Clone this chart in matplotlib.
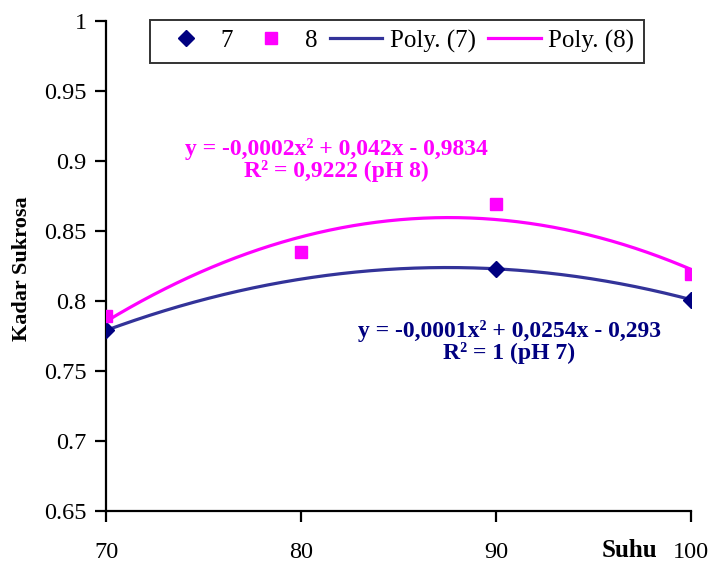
import numpy as np
import matplotlib.pyplot as plt

# suhu vs kadar sukrosa, pH 7 dan pH 8
suhu_7 = [70, 90, 100]
kadar_7 = [0.779, 0.823, 0.801]
suhu_8 = [70, 80, 90, 100]
kadar_8 = [0.789, 0.835, 0.869, 0.819]

persamaan_7 = "y = -0,0001x\u00b2 + 0,0254x - 0,293\nR\u00b2 = 1 (pH 7)"
persamaan_8 = "y = -0,0002x\u00b2 + 0,042x - 0,9834\nR\u00b2 = 0,9222 (pH 8)"

plt.rcParams['font.family'] = ['Liberation Serif', 'DejaVu Serif']

warna_7 = '#000080'
garis_7 = '#333399'
warna_8 = '#FF00FF'

fig = plt.figure(figsize=(7.1, 5.62), dpi=100)
ax = fig.add_axes([0.1493, 0.0907, 0.8239, 0.8719])

# trendline polinomial orde 2
xs = np.linspace(70, 100, 200)
p7 = np.polyfit(suhu_7, kadar_7, 2)
p8 = np.polyfit(suhu_8, kadar_8, 2)

ax.plot(suhu_7, kadar_7, 'D', color=warna_7, ms=8, label='7', zorder=3)
ax.plot(suhu_8, kadar_8, 's', color=warna_8, ms=8, label='8', zorder=3)
ax.plot(xs, np.polyval(p7, xs), color=garis_7, lw=2.3, label='Poly. (7)')
ax.plot(xs, np.polyval(p8, xs), color=warna_8, lw=2.3, label='Poly. (8)')

ax.set_xlim(70, 100)
ax.set_ylim(0.65, 1.0)
ax.set_xticks([70, 80, 90, 100])
ax.set_xticklabels(['70', '80', '90', '100'])
ax.set_yticks([0.65, 0.7, 0.75, 0.8, 0.85, 0.9, 0.95, 1.0])
ax.set_yticklabels(['0.65', '0.7', '0.75', '0.8', '0.85', '0.9', '0.95', '1'])

for s in ['top', 'right']:
    ax.spines[s].set_visible(False)
for s in ['left', 'bottom']:
    ax.spines[s].set_linewidth(1.6)
ax.tick_params(direction='out', length=8, width=1.6, labelsize=17.5, pad=6)
ax.tick_params(axis='x', pad=14)
for lbl in ax.get_xticklabels() + ax.get_yticklabels():
    lbl.set_clip_on(False)

ax.text(81.82, 0.9007, persamaan_8, color=warna_8, fontsize=17, fontweight='bold',
        ha='center', va='center', linespacing=1.05)
ax.text(90.67, 0.7707, persamaan_7, color=warna_7, fontsize=17, fontweight='bold',
        ha='center', va='center', linespacing=1.05)

fig.text(0.031, 0.522, 'Kadar Sukrosa', rotation=90, fontsize=16,
         fontweight='bold', ha='center', va='center')
fig.text(0.886, 0.021, 'Suhu', fontsize=18, fontweight='bold',
         ha='center', va='center')

leg = ax.legend(loc='upper left', bbox_to_anchor=(0.075, 1.003), ncol=4,
                fontsize=18, frameon=True, fancybox=False, borderpad=0.4,
                handlelength=2.1, columnspacing=0.5, handletextpad=0.3,
                borderaxespad=0)
leg.get_frame().set_edgecolor('black')
leg.get_frame().set_linewidth(1.4)

fig.savefig('out.png', dpi=100)
